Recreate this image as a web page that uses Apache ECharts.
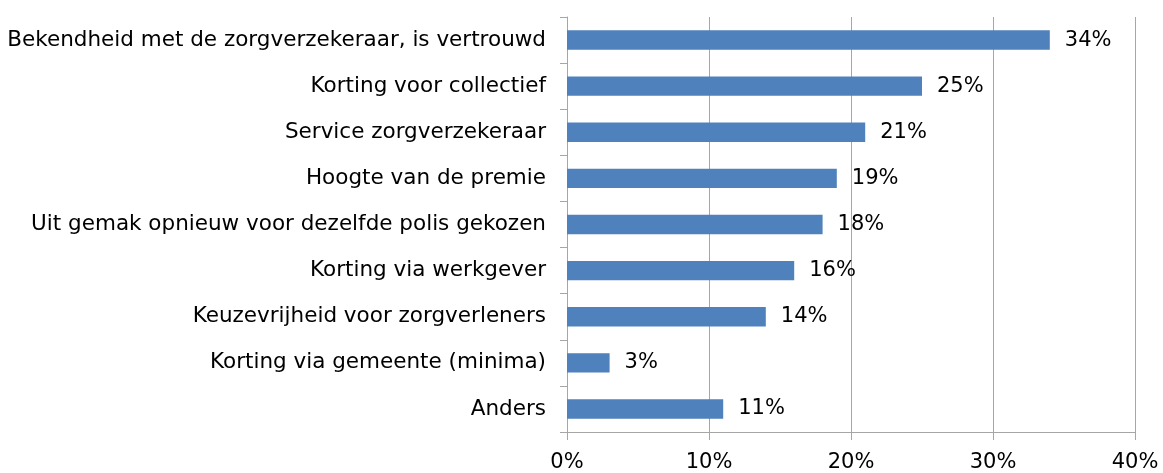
<!DOCTYPE html>
<html>
<head>
<meta charset="utf-8">
<script src="https://cdn.jsdelivr.net/npm/echarts@6/dist/echarts.min.js"></script>
<style>
  html, body { margin: 0; padding: 0; background: #fff; }
  #chart { width: 1163px; height: 473px; }
</style>
</head>
<body>
<div id="chart"></div>
<script>
let categories = [
  "Bekendheid met de zorgverzekeraar, is vertrouwd",
  "Korting voor collectief",
  "Service zorgverzekeraar",
  "Hoogte van de premie",
  "Uit gemak opnieuw voor dezelfde polis gekozen",
  "Korting via werkgever",
  "Keuzevrijheid voor zorgverleners",
  "Korting via gemeente (minima)",
  "Anders"
];
let values = [34, 25, 21, 19, 18, 16, 14, 3, 11];

let font = "DejaVu Sans, Verdana, sans-serif";

let chart = echarts.init(document.getElementById("chart"));
chart.setOption({
  animation: false,
  grid: { left: 567, right: 28, top: 17, bottom: 37, containLabel: false },
  xAxis: {
    type: "value",
    min: 0,
    max: 40,
    interval: 10,
    axisLine: { show: true, lineStyle: { color: "#a6a6a6" } },
    axisTick: { show: true, length: 8, lineStyle: { color: "#a6a6a6" } },
    splitLine: { show: true, lineStyle: { color: "#a6a6a6" } },
    axisLabel: { formatter: "{value}%", color: "#000", fontSize: 21, fontFamily: font, margin: 20 }
  },
  yAxis: {
    type: "category",
    inverse: true,
    data: categories,
    axisLine: { show: true, lineStyle: { color: "#a6a6a6" } },
    axisTick: { show: true, length: 7, lineStyle: { color: "#a6a6a6" } },
    axisLabel: { color: "#000", fontSize: 21.5, fontFamily: font, margin: 21 }
  },
  series: [{
    type: "bar",
    data: values,
    barCategoryGap: "58%",
    itemStyle: { color: "#4f81bd" },
    label: {
      show: true,
      position: "right",
      distance: 15,
      formatter: "{c}%",
      color: "#000",
      fontSize: 21,
      fontFamily: font
    }
  }]
});
</script>
</body>
</html>
